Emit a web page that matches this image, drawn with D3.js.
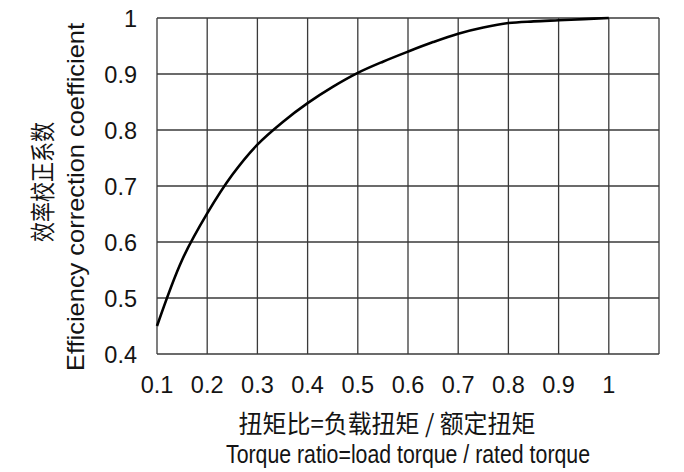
<!DOCTYPE html>
<html>
<head>
<meta charset="utf-8">
<script src="https://cdn.jsdelivr.net/npm/d3@7"></script>
<style>
  html, body { margin: 0; padding: 0; background: #fff; }
  svg { display: block; }
  text { fill: #141414; }
</style>
</head>
<body>
<svg id="chart" width="684" height="472"></svg>
<script>
// Torque ratio (x) and efficiency correction coefficient (y)
const torqueRatio = [0.1, 0.15, 0.2, 0.25, 0.3, 0.35, 0.4, 0.45, 0.5, 0.55, 0.6, 0.65, 0.7, 0.75, 0.8, 0.85, 0.9, 0.95, 1.0];
const efficiency  = [0.45, 0.568, 0.651, 0.72, 0.774, 0.814, 0.848, 0.877, 0.902, 0.922, 0.94, 0.957, 0.972, 0.983, 0.991, 0.994, 0.996, 0.998, 1.0];

const xTicks = [0.1, 0.2, 0.3, 0.4, 0.5, 0.6, 0.7, 0.8, 0.9, 1.0];
const xGrid  = [0.1, 0.2, 0.3, 0.4, 0.5, 0.6, 0.7, 0.8, 0.9, 1.0, 1.1];
const yTicks = [0.4, 0.5, 0.6, 0.7, 0.8, 0.9, 1.0];

const xTitleZh = "扭矩比=负载扭矩 / 额定扭矩";
const xTitleEn = "Torque ratio=load torque / rated torque";
const yTitleZh = "效率校正系数";
const yTitleEn = "Efficiency correction coefficient";

const svg = d3.select("#chart");
const latin = "'Liberation Sans', Arial, sans-serif";
const cjk = "'Noto Sans CJK SC', sans-serif";

const x = d3.scaleLinear().domain([0.1, 1.1]).range([157, 659]);
const y = d3.scaleLinear().domain([0.4, 1.0]).range([354, 18]);

// grid
const grid = svg.append("g").attr("stroke", "#3a3a3a").attr("stroke-width", 1.3).attr("fill", "none");
grid.selectAll("line.v").data(xGrid).join("line")
  .attr("class", "v")
  .attr("x1", d => x(d)).attr("x2", d => x(d))
  .attr("y1", y(1.0)).attr("y2", y(0.4));
grid.selectAll("line.h").data(yTicks).join("line")
  .attr("class", "h")
  .attr("x1", x(0.1)).attr("x2", x(1.1))
  .attr("y1", d => y(d)).attr("y2", d => y(d));

// tick labels
const fmt = d => d === 1 ? "1" : d3.format(".1f")(d);
svg.append("g").selectAll("text").data(xTicks).join("text")
  .attr("x", d => x(d)).attr("y", 393)
  .attr("text-anchor", "middle")
  .style("font-family", latin).style("font-size", "23.5px")
  .text(fmt);
svg.append("g").selectAll("text").data(yTicks).join("text")
  .attr("x", 137).attr("y", d => y(d) + 8.6)
  .attr("text-anchor", "end")
  .style("font-family", latin).style("font-size", "23.5px")
  .text(fmt);

// curve
const line = d3.line()
  .x((d, i) => x(torqueRatio[i]))
  .y(d => y(d))
  .curve(d3.curveCatmullRom.alpha(0.5));
svg.append("path")
  .datum(efficiency)
  .attr("d", line)
  .attr("fill", "none")
  .attr("stroke", "#000")
  .attr("stroke-width", 2.6)
  .attr("stroke-linejoin", "round");

// axis titles
svg.append("text")
  .attr("x", 387).attr("y", 433)
  .attr("text-anchor", "middle")
  .attr("textLength", 297).attr("lengthAdjust", "spacingAndGlyphs")
  .style("font-family", cjk).style("font-size", "25px")
  .text(xTitleZh);
svg.append("text")
  .attr("x", 408).attr("y", 463)
  .attr("text-anchor", "middle")
  .attr("textLength", 364).attr("lengthAdjust", "spacingAndGlyphs")
  .style("font-family", latin).style("font-size", "26px")
  .text(xTitleEn);
svg.append("text")
  .attr("transform", "translate(52,182) rotate(-90)")
  .attr("text-anchor", "middle")
  .attr("textLength", 120).attr("lengthAdjust", "spacingAndGlyphs")
  .style("font-family", cjk).style("font-size", "25px")
  .text(yTitleZh);
svg.append("text")
  .attr("transform", "translate(84,197) rotate(-90)")
  .attr("text-anchor", "middle")
  .attr("textLength", 348).attr("lengthAdjust", "spacingAndGlyphs")
  .style("font-family", latin).style("font-size", "24px")
  .text(yTitleEn);
</script>
</body>
</html>
